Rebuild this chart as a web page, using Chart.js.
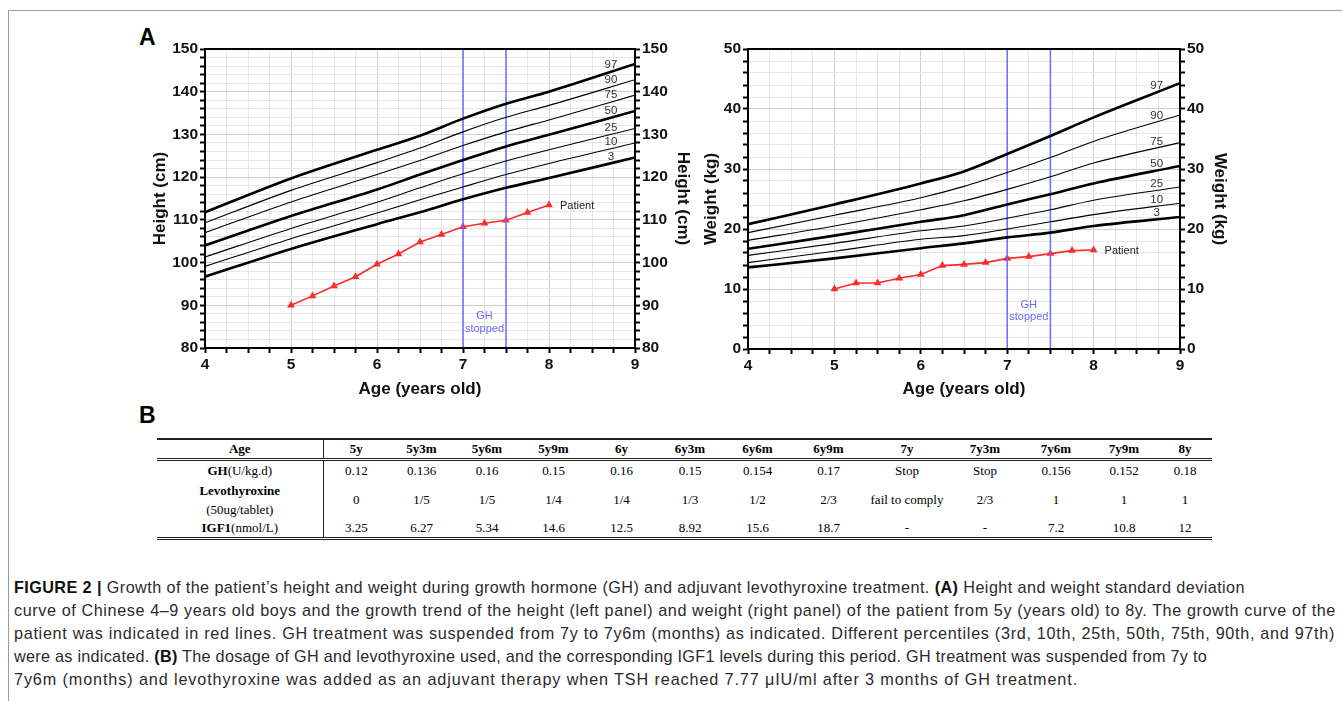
<!DOCTYPE html>
<html>
<head>
<meta charset="utf-8">
<script src="https://cdn.jsdelivr.net/npm/chart.js@4.4.1/dist/chart.umd.min.js"></script>
<style>
  html,body{margin:0;padding:0;background:#fff;}
  body{width:1342px;height:701px;position:relative;overflow:hidden;font-family:"Liberation Sans",Arial,sans-serif;}
  .frame{position:absolute;left:8px;top:10px;width:1340px;height:700px;border-top:1px solid #9a9a9a;border-left:1px solid #9a9a9a;}
  .panel{position:absolute;}
  .letter{position:absolute;font-weight:bold;font-size:23px;color:#000;}
  table{position:absolute;left:157px;top:438px;border-collapse:collapse;table-layout:fixed;font-family:"Liberation Serif","Times New Roman",serif;font-size:13px;color:#000;}
  td{text-align:center;padding:0;white-space:nowrap;}
  tr.head td{font-weight:bold;height:18px;border-top:2px solid #222;border-bottom:3px double #222;}
  tr.last td{border-bottom:3px double #222;}
  td.rl{border-right:1px solid #222;font-weight:bold;}
  td.rl span{font-weight:normal;}
  .cap{position:absolute;left:14px;font-size:16.2px;line-height:20px;color:#2b2b2b;white-space:nowrap;}
  .cap b{color:#111;}
</style>
</head>
<body>
<div class="frame"></div>
<div class="letter" style="left:139px;top:24px;">A</div>
<div class="letter" style="left:139px;top:402px;">B</div>
<div class="panel" style="left:140px;top:30px;width:560px;height:370px;"><canvas id="hc"></canvas></div>
<div class="panel" style="left:680px;top:30px;width:570px;height:370px;"><canvas id="wc"></canvas></div>
<table id="tbl"></table>
<div class="cap" data-right="1245" style="top:577px;"><b>FIGURE 2 |</b> Growth of the patient’s height and weight during growth hormone (GH) and adjuvant levothyroxine treatment. <b>(A)</b> Height and weight standard deviation</div>
<div class="cap" data-right="1336" style="top:600px;">curve of Chinese 4–9 years old boys and the growth trend of the height (left panel) and weight (right panel) of the patient from 5y (years old) to 8y. The growth curve of the</div>
<div class="cap" data-right="1335" style="top:623px;">patient was indicated in red lines. GH treatment was suspended from 7y to 7y6m (months) as indicated. Different percentiles (3rd, 10th, 25th, 50th, 75th, 90th, and 97th)</div>
<div class="cap" data-right="1207" style="top:646px;">were as indicated. <b>(B)</b> The dosage of GH and levothyroxine used, and the corresponding IGF1 levels during this period. GH treatment was suspended from 7y to</div>
<div class="cap" data-right="1078" style="top:669px;">7y6m (months) and levothyroxine was added as an adjuvant therapy when TSH reached 7.77 μIU/ml after 3 months of GH treatment.</div>
<script>
// ---------- DATA ----------
const refAges = [4, 5, 6, 6.5, 7, 7.5, 8, 9];
const percentileNames = ['97', '90', '75', '50', '25', '10', '3'];
// Height percentiles (cm)
const height97 = [111.8, 119.7, 126.4, 129.7, 133.7, 137.2, 140.0, 146.5];
const height90 = [109.3, 116.9, 123.4, 126.8, 130.6, 134.0, 136.8, 142.8];
const height75 = [107.0, 114.2, 120.6, 123.9, 127.4, 130.6, 133.4, 139.2];
const height50 = [104.0, 110.9, 117.1, 120.6, 124.0, 127.2, 129.9, 135.5];
const height25 = [101.3, 108.0, 114.1, 117.5, 120.8, 123.8, 126.4, 131.4];
const height10 = [99.1, 105.6, 111.6, 114.7, 117.7, 120.6, 123.2, 128.0];
const height3  = [96.7, 103.2, 109.0, 111.8, 114.8, 117.5, 119.8, 124.6];
// Weight percentiles (kg)
const weight97 = [20.8, 24.1, 27.6, 29.6, 32.5, 35.5, 38.6, 44.3];
const weight90 = [19.4, 22.3, 25.2, 27.1, 29.4, 31.9, 34.6, 39.0];
const weight75 = [18.1, 20.5, 23.2, 24.7, 26.6, 28.7, 31.0, 34.4];
const weight50 = [16.7, 18.9, 21.2, 22.3, 24.1, 25.8, 27.6, 30.5];
const weight25 = [15.6, 17.6, 19.7, 20.5, 21.8, 23.2, 24.8, 27.0];
const weight10 = [14.4, 16.3, 18.3, 18.9, 20.0, 21.2, 22.4, 24.3];
const weight3  = [13.6, 15.1, 16.8, 17.6, 18.6, 19.4, 20.5, 22.0];
// Patient
const patientAges   = [5, 5.25, 5.5, 5.75, 6, 6.25, 6.5, 6.75, 7, 7.25, 7.5, 7.75, 8];
const patientHeight = [90.0, 92.2, 94.5, 96.7, 99.6, 102.0, 104.8, 106.6, 108.4, 109.2, 109.9, 111.7, 113.5];
const patientWeight = [10.0, 11.0, 11.0, 11.8, 12.4, 13.9, 14.1, 14.4, 15.1, 15.4, 15.9, 16.4, 16.5];
// GH stopped interval
const ghStopAges = [7, 7.5];
// Tick labels
const ageTicks = [4, 5, 6, 7, 8, 9];
const heightTicks = [80, 90, 100, 110, 120, 130, 140, 150];
const weightTicks = [0, 10, 20, 30, 40, 50];
// Table
const tableAges = ['5y','5y3m','5y6m','5y9m','6y','6y3m','6y6m','6y9m','7y','7y3m','7y6m','7y9m','8y'];
const ghDose    = ['0.12','0.136','0.16','0.15','0.16','0.15','0.154','0.17','Stop','Stop','0.156','0.152','0.18'];
const levoDose  = ['0','1/5','1/5','1/4','1/4','1/3','1/2','2/3','fail to comply','2/3','1','1','1'];
const igf1      = ['3.25','6.27','5.34','14.6','12.5','8.92','15.6','18.7','-','-','7.2','10.8','12'];

// ---------- CAPTION FIT ----------
document.querySelectorAll('.cap').forEach(el => {
  const target = +el.dataset.right - 14;
  const w = el.getBoundingClientRect().width;
  const n = el.textContent.length;
  el.style.letterSpacing = ((target - w) / n).toFixed(3) + 'px';
});

// ---------- TABLE ----------
const colWidths = [166, 66, 65, 66, 67, 69, 68, 67, 75, 82, 74, 68, 68, 54];
(function buildTable(){
  const t = document.getElementById('tbl');
  let h = '<colgroup>' + colWidths.map(w => `<col style="width:${w}px">`).join('') + '</colgroup>';
  h += '<tr class="head"><td class="rl">Age</td>' + tableAges.map(a => `<td>${a}</td>`).join('') + '</tr>';
  h += '<tr style="height:21px"><td class="rl">GH<span>(U/kg.d)</span></td>' + ghDose.map(v => `<td>${v}</td>`).join('') + '</tr>';
  h += '<tr style="height:38px"><td class="rl" style="line-height:19px">Levothyroxine<br><span>(50ug/tablet)</span></td>' + levoDose.map(v => `<td>${v}</td>`).join('') + '</tr>';
  h += '<tr class="last" style="height:20px"><td class="rl">IGF1<span>(nmol/L)</span></td>' + igf1.map(v => `<td>${v}</td>`).join('') + '</tr>';
  t.innerHTML = h;
})();

// ---------- CHARTS ----------
const FONT = "'Liberation Sans', Arial, sans-serif";
const BLUE = '#6b6bff';
const RED = '#ff2a2a';

const decorPlugin = {
  id: 'decor',
  afterDatasetsDraw(chart, args, opts) {
    const ctx = chart.ctx;
    const xs = chart.scales.x, ys = chart.scales.y;
    ctx.save();
    ctx.font = '11.5px ' + FONT;
    ctx.fillStyle = '#333';
    ctx.textAlign = 'center';
    ctx.textBaseline = 'bottom';
    chart.data.datasets.forEach((ds, i) => {
      if (ds.pctLabel === undefined) return;
      const pts = chart.getDatasetMeta(i).data;
      const px = xs.getPixelForValue(opts.labelAge);
      let py = pts[pts.length - 1].y;
      for (let k = 1; k < pts.length; k++) {
        if (pts[k].x >= px) {
          const a = pts[k - 1], b = pts[k];
          py = a.y + (b.y - a.y) * (px - a.x) / (b.x - a.x);
          break;
        }
      }
      ctx.fillText(ds.pctLabel, px, py - 1);
    });
    const pi = chart.data.datasets.findIndex(d => d.isPatient);
    const pp = chart.getDatasetMeta(pi).data;
    const last = pp[pp.length - 1];
    ctx.textAlign = 'left';
    ctx.textBaseline = 'middle';
    ctx.fillStyle = '#222';
    ctx.font = '11px ' + FONT;
    ctx.fillText('Patient', last.x + 11, last.y + 1);
    ctx.fillStyle = BLUE;
    ctx.textAlign = 'center';
    const cx = (xs.getPixelForValue(ghStopAges[0]) + xs.getPixelForValue(ghStopAges[1])) / 2;
    ctx.fillText('GH', cx, ys.getPixelForValue(opts.ghY[0]));
    ctx.fillText('stopped', cx, ys.getPixelForValue(opts.ghY[1]));
    ctx.restore();
  },
  afterDraw(chart) {
    const a = chart.chartArea, ctx = chart.ctx;
    ctx.save();
    ctx.strokeStyle = '#000';
    ctx.lineWidth = 2;
    ctx.strokeRect(a.left, a.top, a.right - a.left, a.bottom - a.top);
    ctx.restore();
  }
};

function makeChart(id, o) {
  const datasets = [];
  o.pct.forEach((arr, i) => {
    const thick = ['97', '50', '3'].includes(percentileNames[i]);
    datasets.push({
      data: refAges.map((a, k) => ({x: a, y: arr[k]})),
      borderColor: '#000',
      borderWidth: thick ? 2.6 : 1.1,
      pointRadius: 0,
      cubicInterpolationMode: 'monotone',
      pctLabel: percentileNames[i]
    });
  });
  ghStopAges.forEach(a => {
    datasets.push({
      data: [{x: a, y: o.yMin}, {x: a, y: o.yMax}],
      borderColor: BLUE, borderWidth: 1.5, pointRadius: 0
    });
  });
  datasets.push({
    data: patientAges.map((a, k) => ({x: a, y: o.patient[k]})),
    borderColor: RED, backgroundColor: RED, borderWidth: 1.6,
    pointStyle: 'triangle', pointRadius: 4.5, pointBorderWidth: 0,
    isPatient: true
  });
  const gridCol = (major) => (c) => (c.tick && Math.abs(c.tick.value % major) < 1e-6) ? '#cfcfcf' : '#e6e6e6';
  return new Chart(document.getElementById(id), {
    type: 'scatter',
    data: {datasets},
    plugins: [decorPlugin],
    options: {
      responsive: true, maintainAspectRatio: false, animation: false,
      showLine: true,
      layout: {padding: {top: 19, left: 0, right: 0, bottom: 0}},
      plugins: {legend: {display: false}, tooltip: {enabled: false},
        decor: {labelAge: o.labelAge, ghY: o.ghY}},
      scales: {
        x: {
          type: 'linear', min: 4, max: 9,
          afterFit: s => { s.height = o.xH; },
          ticks: {stepSize: 0.25, autoSkip: false, maxRotation: 0, padding: 2,
            font: {size: 15.5, weight: 'bold', family: FONT}, color: '#111',
            callback: v => ageTicks.includes(v) ? String(v) : ''},
          grid: {color: gridCol(1), lineWidth: 1, tickColor: '#000', tickLength: 5, tickWidth: 2},
          border: {color: '#000', width: 2},
          title: {display: true, text: 'Age (years old)', font: {size: 17, weight: 'bold', family: FONT}, color: '#111', padding: {top: 2, bottom: 0}}
        },
        y: {
          type: 'linear', position: 'left', min: o.yMin, max: o.yMax,
          afterFit: s => { s.width = o.yLW; },
          ticks: {stepSize: 2, autoSkip: false, padding: 2,
            font: {size: 15.5, weight: 'bold', family: FONT}, color: '#111',
            callback: v => o.ticks.includes(v) ? String(v) : ''},
          grid: {color: gridCol(10), lineWidth: 1, tickColor: '#000', tickLength: 5, tickWidth: 2},
          border: {color: '#000', width: 2},
          title: {display: true, text: o.title, font: {size: 17, weight: 'bold', family: FONT}, color: '#111', padding: {top: o.titlePadL, bottom: 0}}
        },
        y2: {
          type: 'linear', position: 'right', min: o.yMin, max: o.yMax,
          afterFit: s => { s.width = o.yRW; },
          ticks: {stepSize: 2, autoSkip: false, padding: 2,
            font: {size: 15.5, weight: 'bold', family: FONT}, color: '#111',
            callback: v => o.ticks.includes(v) ? String(v) : ''},
          grid: {drawOnChartArea: false, tickColor: '#000', tickLength: 5, tickWidth: 2},
          border: {color: '#000', width: 2},
          title: {display: true, text: o.title, font: {size: 17, weight: 'bold', family: FONT}, color: '#111', padding: {top: o.titlePadR, bottom: 0}}
        }
      }
    }
  });
}

makeChart('hc', {
  pct: [height97, height90, height75, height50, height25, height10, height3],
  patient: patientHeight, yMin: 80, yMax: 150, ticks: heightTicks,
  title: 'Height (cm)', xH: 52, yLW: 65, yRW: 65, titlePadL: 10, titlePadR: 7,
  labelAge: 8.72, ghY: [87.5, 84.4]
});
makeChart('wc', {
  pct: [weight97, weight90, weight75, weight50, weight25, weight10, weight3],
  patient: patientWeight, yMin: 0, yMax: 50, ticks: weightTicks,
  title: 'Weight (kg)', xH: 51, yLW: 68, yRW: 70, titlePadL: 21, titlePadR: 20,
  labelAge: 8.73, ghY: [7.3, 5.3]
});
</script>
</body>
</html>
